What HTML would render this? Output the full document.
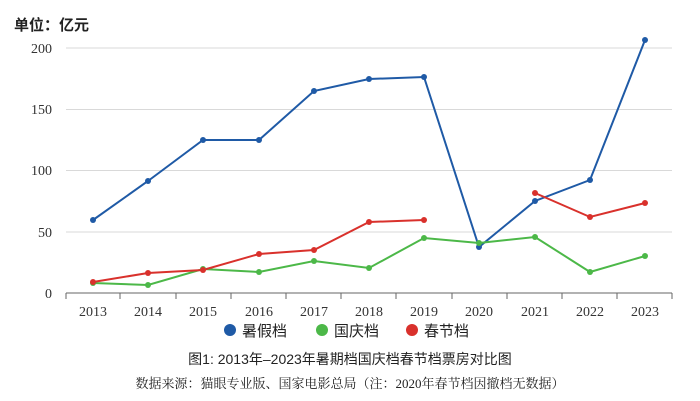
<!DOCTYPE html>
<html><head><meta charset="utf-8"><style>
body{margin:0;background:#fff;}
svg{display:block;}
</style></head><body>
<svg width="700" height="401" xmlns="http://www.w3.org/2000/svg" font-family="Liberation Serif, Noto Serif CJK SC, serif">
<rect width="700" height="401" fill="#fff"/>
<text x="14" y="30" font-size="15" font-weight="bold" font-family="Liberation Sans, Noto Sans CJK SC, sans-serif" fill="#222">单位：亿元</text>
<g stroke="#d9d9d9" stroke-width="1">
<line x1="66" y1="48" x2="672" y2="48"/>
<line x1="66" y1="109.5" x2="672" y2="109.5"/>
<line x1="66" y1="170.5" x2="672" y2="170.5"/>
<line x1="66" y1="232" x2="672" y2="232"/>
</g>
<line x1="66" y1="293" x2="672" y2="293" stroke="#666" stroke-width="1"/>
<g stroke="#666"><line x1="66" y1="293" x2="66" y2="299"/>
<line x1="120" y1="293" x2="120" y2="299"/><line x1="176" y1="293" x2="176" y2="299"/><line x1="231" y1="293" x2="231" y2="299"/><line x1="286" y1="293" x2="286" y2="299"/><line x1="341" y1="293" x2="341" y2="299"/><line x1="396" y1="293" x2="396" y2="299"/><line x1="452" y1="293" x2="452" y2="299"/><line x1="507" y1="293" x2="507" y2="299"/><line x1="562" y1="293" x2="562" y2="299"/><line x1="617" y1="293" x2="617" y2="299"/><line x1="672" y1="293" x2="672" y2="299"/></g>
<g font-size="14" fill="#333" text-anchor="end">
<text x="52" y="53">200</text><text x="52" y="114">150</text><text x="52" y="175">100</text><text x="52" y="237">50</text><text x="52" y="298">0</text>
</g>
<g font-size="14" fill="#333" text-anchor="middle">
<text x="93" y="316">2013</text><text x="148" y="316">2014</text><text x="203" y="316">2015</text><text x="259" y="316">2016</text><text x="314" y="316">2017</text><text x="369" y="316">2018</text><text x="424" y="316">2019</text><text x="479" y="316">2020</text><text x="535" y="316">2021</text><text x="590" y="316">2022</text><text x="645" y="316">2023</text>
</g>
<polyline fill="none" stroke="#1f5aa6" stroke-width="2" points="93,220 148,181 203,140 259,140 314,91 369,79 424,77 479,247 535,201 590,180 645,40"/>
<polyline fill="none" stroke="#4cb848" stroke-width="2" points="93,283 148,285 203,269 259,272 314,261 369,268 424,238 479,243 535,237 590,272 645,256"/>
<polyline fill="none" stroke="#d9312c" stroke-width="2" points="93,282 148,273 203,270 259,254 314,250 369,222 424,220"/>
<polyline fill="none" stroke="#d9312c" stroke-width="2" points="535,193 590,217 645,203"/>
<g fill="#1f5aa6"><circle cx="93" cy="220" r="3"/><circle cx="148" cy="181" r="3"/><circle cx="203" cy="140" r="3"/><circle cx="259" cy="140" r="3"/><circle cx="314" cy="91" r="3"/><circle cx="369" cy="79" r="3"/><circle cx="424" cy="77" r="3"/><circle cx="479" cy="247" r="3"/><circle cx="535" cy="201" r="3"/><circle cx="590" cy="180" r="3"/><circle cx="645" cy="40" r="3"/></g>
<g fill="#4cb848"><circle cx="93" cy="283" r="3"/><circle cx="148" cy="285" r="3"/><circle cx="203" cy="269" r="3"/><circle cx="259" cy="272" r="3"/><circle cx="314" cy="261" r="3"/><circle cx="369" cy="268" r="3"/><circle cx="424" cy="238" r="3"/><circle cx="479" cy="243" r="3"/><circle cx="535" cy="237" r="3"/><circle cx="590" cy="272" r="3"/><circle cx="645" cy="256" r="3"/></g>
<g fill="#d9312c"><circle cx="93" cy="282" r="3"/><circle cx="148" cy="273" r="3"/><circle cx="203" cy="270" r="3"/><circle cx="259" cy="254" r="3"/><circle cx="314" cy="250" r="3"/><circle cx="369" cy="222" r="3"/><circle cx="424" cy="220" r="3"/><circle cx="535" cy="193" r="3"/><circle cx="590" cy="217" r="3"/><circle cx="645" cy="203" r="3"/></g>
<g font-size="15" fill="#222" font-family="Liberation Sans, Noto Sans CJK SC, sans-serif">
<circle cx="230" cy="330" r="6" fill="#1f5aa6"/><text x="242" y="336">暑假档</text>
<circle cx="322" cy="330" r="6" fill="#4cb848"/><text x="334" y="336">国庆档</text>
<circle cx="412" cy="330" r="6" fill="#d9312c"/><text x="424" y="336">春节档</text>
</g>
<text x="350" y="364" font-size="14" fill="#222" text-anchor="middle" font-family="Liberation Sans, Noto Sans CJK SC, sans-serif">图1: 2013年–2023年暑期档国庆档春节档票房对比图</text>
<text x="350" y="388" font-size="13" fill="#222" text-anchor="middle" font-family="Liberation Serif, Noto Serif CJK SC, serif">数据来源：猫眼专业版、国家电影总局（注：2020年春节档因撤档无数据）</text>
</svg>
</body></html>
